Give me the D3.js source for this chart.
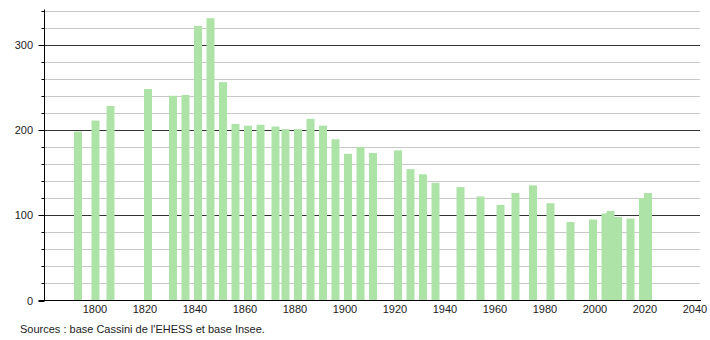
<!DOCTYPE html>
<html>
<head>
<meta charset="utf-8">
<script src="https://cdn.jsdelivr.net/npm/d3@7"></script>
<style>
  body { margin: 0; background: #fff; }
  svg { font-family: "Liberation Sans", Arial, sans-serif; }
</style>
</head>
<body>
<div id="chart"><svg width="710" height="340"></svg></div>
<script>
// census years and population
var years = [1793, 1800, 1806, 1821, 1831, 1836, 1841, 1846, 1851, 1856,
             1861, 1866, 1872, 1876, 1881, 1886, 1891, 1896, 1901, 1906,
             1911, 1921, 1926, 1931, 1936, 1946, 1954, 1962, 1968, 1975,
             1982, 1990, 1999, 2004, 2006, 2009, 2014, 2019, 2021];
var population = [198, 211, 228, 248, 240, 241, 322, 331, 256, 207,
                  205, 206, 204, 201, 201, 213, 205, 189, 172, 180,
                  173, 176, 154, 148, 138, 133, 122, 112, 126, 135,
                  114, 92, 95, 102, 105, 98, 96, 120, 126];
var xTicks = [1800, 1820, 1840, 1860, 1880, 1900, 1920, 1940, 1960, 1980, 2000, 2020, 2040];
var yMajor = [0, 100, 200, 300];
var yMinor = d3.range(20, 341, 20).filter(function(v) { return v % 100 !== 0; });
var source = "Sources : base Cassini de l'EHESS et base Insee.";

(function() {
    var svg = d3.select('div#chart svg'),
        plotLeft = 44.5, plotRight = 700, plotBottom = 300.5, plotTop = 10.5,
        x = d3.scaleLinear().domain([1780, 2042]).range([45, 700]),
        y = d3.scaleLinear().domain([0, 340]).range([plotBottom, plotTop]),
        snap = function(d) { return Math.round(y(d)) + 0.5; };

    // minor gridlines
    svg.append('g').selectAll('line').data(yMinor).join('line')
        .attr('x1', plotLeft).attr('x2', plotRight)
        .attr('y1', snap).attr('y2', snap)
        .attr('stroke', '#c8c8c8');
    // major gridlines
    svg.append('g').selectAll('line').data(yMajor.slice(1)).join('line')
        .attr('x1', plotLeft).attr('x2', plotRight)
        .attr('y1', snap).attr('y2', snap)
        .attr('stroke', '#333');

    // bars
    svg.append('g').selectAll('rect').data(years).join('rect')
        .attr('x', function(d) { return x(d) - 3.5; })
        .attr('width', 8)
        .attr('y', function(d, i) { return y(population[i]); })
        .attr('height', function(d, i) { return plotBottom - y(population[i]); })
        .attr('fill', '#aee3a8');

    // y axis
    var yAxis = svg.append('g');
    yAxis.append('line').attr('x1', plotLeft).attr('x2', plotLeft)
        .attr('y1', plotTop - 1).attr('y2', plotBottom)
        .attr('stroke', '#000');
    yAxis.selectAll('line.minor').data(yMinor).join('line').classed('minor', true)
        .attr('x1', plotLeft - 3).attr('x2', plotLeft)
        .attr('y1', snap).attr('y2', snap)
        .attr('stroke', '#000');
    yAxis.selectAll('line.major').data(yMajor).join('line').classed('major', true)
        .attr('x1', plotLeft - 6).attr('x2', plotLeft)
        .attr('y1', snap).attr('y2', snap)
        .attr('stroke', '#000');
    yAxis.selectAll('text').data(yMajor).join('text')
        .attr('x', 33).attr('y', function(d) { return y(d) + 4; })
        .attr('text-anchor', 'end').attr('font-size', 11).attr('fill', '#222')
        .text(function(d) { return d; });

    // x axis
    var xAxis = svg.append('g');
    xAxis.append('line').attr('x1', plotLeft - 6).attr('x2', plotRight + 1)
        .attr('y1', plotBottom).attr('y2', plotBottom)
        .attr('stroke', '#000');
    xAxis.selectAll('text').data(xTicks).join('text')
        .attr('x', function(d) { return x(d); }).attr('y', 313)
        .attr('text-anchor', 'middle').attr('font-size', 11).attr('fill', '#222')
        .text(function(d) { return d; });

    // source note
    svg.append('text').attr('x', 20).attr('y', 333)
        .attr('font-size', 11).attr('fill', '#222')
        .text(source);
})();
</script>
</body>
</html>
